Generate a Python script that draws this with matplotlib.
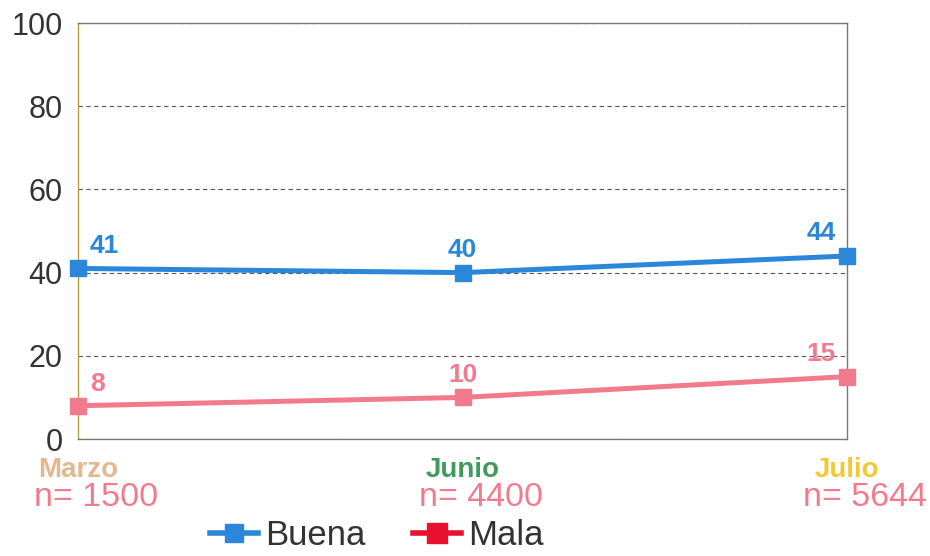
#!/usr/bin/env python3
"""Buena / Mala line chart across three survey waves."""

import matplotlib

matplotlib.use("Agg")
import matplotlib.pyplot as plt
from matplotlib.lines import Line2D

plt.rcParams["font.family"] = ["Liberation Sans", "DejaVu Sans"]

months = ["Marzo", "Junio", "Julio"]
sample_sizes = ["n= 1500", "n= 4400", "n= 5644"]
buena = [41, 40, 44]
mala = [8, 10, 15]
y_ticks = [0, 20, 40, 60, 80, 100]

BLUE = "#2a87d9"
PINK = "#f27a8d"
LEGEND_RED = "#ea1030"
MONTH_COLORS = ["#e2b98e", "#3f9a5c", "#f3c832"]

fig = plt.figure(figsize=(9.3, 5.56), dpi=100)
ax = fig.add_axes([0.0839, 0.2104, 0.8269, 0.7482])

x = list(range(len(months)))
ax.plot(x, buena, color=BLUE, lw=3.6, marker="s", ms=11, clip_on=False, zorder=3)
ax.plot(x, mala, color=PINK, lw=3.6, marker="s", ms=11, clip_on=False, zorder=3)

# value labels: left-aligned at the first point, right-aligned at the last
label_dx = [8.5, 0, -8]
label_ha = ["left", "center", "right"]
for i in x:
    ax.annotate(str(buena[i]), (i, buena[i]), xytext=(label_dx[i], 16.5),
                textcoords="offset points", ha=label_ha[i], va="center",
                fontsize=19, fontweight="bold", color=BLUE)
    ax.annotate(str(mala[i]), (i, mala[i]), xytext=(label_dx[i], 16),
                textcoords="offset points", ha=label_ha[i], va="center",
                fontsize=19, fontweight="bold", color=PINK)

ax.set_xlim(0, 2)
ax.set_ylim(0, 100)
ax.set_yticks(y_ticks)
ax.set_xticks([])
ax.tick_params(axis="y", length=0, labelsize=22, labelcolor="#333333", pad=11)
ax.yaxis.grid(True, linestyle=(0, (4, 3)), color="#555555", lw=0.8)
ax.set_axisbelow(True)

for side in ("top", "right", "bottom"):
    ax.spines[side].set_color("#777777")
    ax.spines[side].set_linewidth(1.0)
ax.spines["left"].set_color("#b89a3a")
ax.spines["left"].set_linewidth(1.0)

for i in x:
    ax.annotate(months[i], (i, 0), xytext=(0, -22), textcoords="offset points",
                ha="center", va="center", fontsize=20, fontweight="bold",
                color=MONTH_COLORS[i], annotation_clip=False)
    ax.annotate(sample_sizes[i], (i, 0), xytext=(13, -42), textcoords="offset points",
                ha="center", va="center", fontsize=24.5, color=PINK,
                annotation_clip=False)

handles = [
    Line2D([], [], color=BLUE, lw=4, marker="s", ms=13),
    Line2D([], [], color=LEGEND_RED, lw=4, marker="s", ms=15),
]
fig.legend(handles, ["Buena", "Mala"], loc="center", bbox_to_anchor=(0.405, 0.036),
           ncol=2, frameon=False, fontsize=25, handlelength=1.4, handletextpad=0.2,
           columnspacing=1.35, labelcolor="#333333", borderpad=0, borderaxespad=0)

fig.savefig("out.png", dpi=100)
